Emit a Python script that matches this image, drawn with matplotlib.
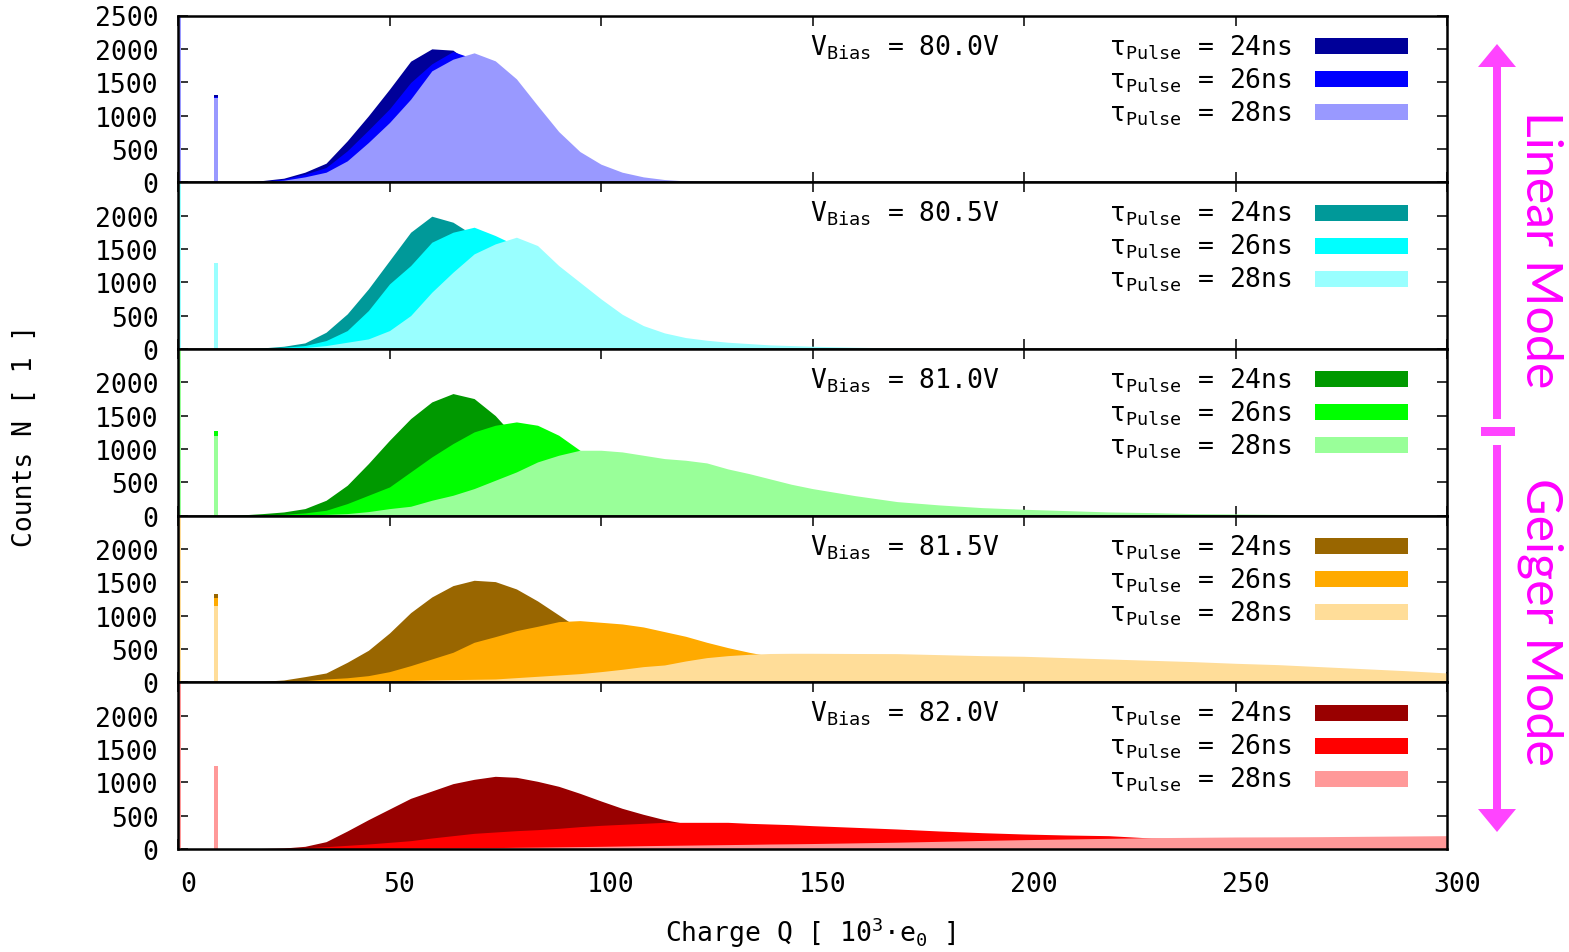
import matplotlib.pyplot as plt
import matplotlib.transforms as mtransforms
from matplotlib.patches import Rectangle, Polygon

plt.rcParams['font.family'] = ['DejaVu Sans Mono', 'DejaVu Sans']
plt.rcParams['mathtext.fontset'] = 'custom'
plt.rcParams['mathtext.rm'] = 'DejaVu Sans Mono'
plt.rcParams['mathtext.it'] = 'DejaVu Sans Mono'
plt.rcParams['mathtext.bf'] = 'DejaVu Sans Mono:bold'

# ==============================
# DATA  (charge in 10^3 e0, counts per bin)
# ==============================

charge = [10, 15, 20, 25, 30, 35, 40, 45, 50, 55, 60, 65, 70, 75, 80, 85, 90, 95,
          100, 105, 110, 115, 120, 125, 130, 135, 140, 145, 150,
          160, 170, 180, 190, 200, 210, 220, 230, 240, 250, 260, 270, 280, 290, 300]

bias_voltage = ['80.0', '80.5', '81.0', '81.5', '82.0']
pulse_width = ['24ns', '26ns', '28ns']
charge_ticks = [0, 50, 100, 150, 200, 250, 300]

# 80.0 V
v800_t24 = [0, 5, 25, 60, 150, 285, 620, 995, 1395, 1815, 2000, 1980, 1750, 1400, 1000, 650, 380, 200,
            100, 50, 20, 8, 3, 0, 0, 0, 0, 0, 0,
            0, 0, 0, 0, 0, 0, 0, 0, 0, 0, 0, 0, 0, 0, 0]
v800_t26 = [0, 3, 15, 45, 120, 220, 470, 780, 1100, 1495, 1775, 1960, 1850, 1550, 1150, 750, 450, 250,
            130, 60, 25, 10, 4, 0, 0, 0, 0, 0, 0,
            0, 0, 0, 0, 0, 0, 0, 0, 0, 0, 0, 0, 0, 0, 0]
v800_t28 = [0, 2, 10, 30, 80, 150, 320, 595, 895, 1245, 1670, 1845, 1940, 1820, 1550, 1150, 760, 460,
            270, 150, 80, 40, 20, 10, 5, 2, 1, 0, 0,
            0, 0, 0, 0, 0, 0, 0, 0, 0, 0, 0, 0, 0, 0, 0]

# 80.5 V
v805_t24 = [0, 3, 15, 40, 90, 250, 525, 900, 1325, 1750, 1990, 1900, 1700, 1350, 950, 600, 350, 180,
            90, 40, 15, 5, 0, 0, 0, 0, 0, 0, 0,
            0, 0, 0, 0, 0, 0, 0, 0, 0, 0, 0, 0, 0, 0, 0]
v805_t26 = [0, 2, 8, 25, 50, 125, 275, 575, 975, 1250, 1600, 1750, 1825, 1700, 1550, 1200, 850, 550,
            330, 180, 90, 40, 15, 5, 0, 0, 0, 0, 0,
            0, 0, 0, 0, 0, 0, 0, 0, 0, 0, 0, 0, 0, 0, 0]
v805_t28 = [0, 1, 5, 10, 20, 50, 100, 150, 275, 500, 850, 1150, 1425, 1575, 1675, 1550, 1250, 1000,
            750, 520, 350, 240, 170, 130, 100, 80, 60, 50, 40,
            25, 15, 8, 4, 2, 0, 0, 0, 0, 0, 0, 0, 0, 0, 0]

# 81.0 V
v810_t24 = [0, 10, 30, 55, 105, 230, 455, 780, 1130, 1455, 1705, 1830, 1755, 1500, 1150, 800, 500, 300,
            160, 80, 40, 20, 10, 5, 0, 0, 0, 0, 0,
            0, 0, 0, 0, 0, 0, 0, 0, 0, 0, 0, 0, 0, 0, 0]
v810_t26 = [0, 3, 10, 20, 40, 80, 180, 305, 430, 655, 880, 1080, 1255, 1355, 1405, 1355, 1205, 980,
            750, 550, 380, 250, 160, 100, 60, 35, 20, 10, 5,
            0, 0, 0, 0, 0, 0, 0, 0, 0, 0, 0, 0, 0, 0, 0]
v810_t28 = [0, 1, 3, 6, 10, 18, 30, 60, 105, 140, 230, 305, 405, 530, 655, 805, 905, 980,
            980, 955, 905, 855, 830, 790, 700, 630, 550, 470, 405,
            300, 210, 160, 120, 95, 75, 55, 45, 30, 25, 18, 12, 8, 5, 3]

# 81.5 V
v815_t24 = [0, 5, 15, 35, 85, 140, 300, 480, 740, 1045, 1280, 1450, 1530, 1510, 1400, 1220, 1010, 800,
            600, 450, 330, 240, 170, 120, 80, 55, 35, 25, 15,
            8, 4, 0, 0, 0, 0, 0, 0, 0, 0, 0, 0, 0, 0, 0]
v815_t26 = [0, 2, 5, 12, 25, 50, 68, 100, 160, 250, 350, 450, 600, 685, 775, 840, 910, 925,
            900, 875, 830, 760, 690, 600, 520, 450, 390, 330, 280,
            200, 140, 100, 70, 50, 35, 25, 18, 12, 8, 5, 3, 2, 1, 0]
v815_t28 = [0, 1, 2, 3, 5, 7, 10, 15, 20, 28, 35, 40, 45, 50, 70, 90, 110, 130,
            160, 195, 235, 260, 320, 370, 400, 420, 432, 435, 435,
            432, 430, 415, 400, 390, 370, 350, 330, 310, 285, 265, 235, 205, 175, 140]

# 82.0 V
v820_t24 = [0, 2, 8, 15, 40, 110, 270, 440, 600, 760, 870, 980, 1045, 1090, 1075, 1015, 940, 835,
            720, 610, 520, 440, 380, 330, 290, 250, 220, 190, 165,
            125, 95, 70, 50, 35, 25, 15, 10, 6, 4, 0, 0, 0, 0, 0]
v820_t26 = [0, 1, 3, 10, 20, 35, 55, 75, 100, 125, 165, 200, 235, 255, 275, 290, 310, 335,
            355, 370, 385, 400, 400, 400, 400, 385, 375, 365, 350,
            325, 300, 270, 245, 225, 210, 200, 165, 155, 145, 135, 125, 115, 110, 100]
v820_t28 = [0, 0, 1, 1, 2, 3, 4, 6, 8, 10, 12, 15, 18, 21, 25, 28, 32, 36,
            40, 45, 50, 54, 58, 62, 66, 70, 75, 78, 82,
            92, 102, 115, 128, 140, 150, 160, 170, 175, 180, 182, 185, 190, 195, 200]

# pedestal peak near 9 and the overflow bin at 0 (clipped at the top)
peak_charge = 8.9
pedestal_800 = [1305, 1280, 1260]
pedestal_805 = [1240, 1260, 1290]
pedestal_810 = [1230, 1270, 1190]
pedestal_815 = [1320, 1260, 1145]
pedestal_820 = [1200, 1220, 1240]
zero_bin = [3000, 3000, 3000]

panels = [
    [v800_t24, v800_t26, v800_t28],
    [v805_t24, v805_t26, v805_t28],
    [v810_t24, v810_t26, v810_t28],
    [v815_t24, v815_t26, v815_t28],
    [v820_t24, v820_t26, v820_t28],
]
pedestals = [pedestal_800, pedestal_805, pedestal_810, pedestal_815, pedestal_820]

colors = [
    ['#000099', '#0000ff', '#9999ff'],
    ['#009999', '#00ffff', '#99ffff'],
    ['#009900', '#00ff00', '#99ff99'],
    ['#996600', '#ffaa00', '#ffdd99'],
    ['#990000', '#ff0000', '#ff9999'],
]

# ==============================
# FIGURE / LAYOUT (pixels)
# ==============================

W, H = 1569, 953
fig = plt.figure(figsize=(W / 100, H / 100), dpi=100)

left, right, top, bottom = 178, 1447, 16.5, 850
ph = (bottom - top) / 5
fs = 19

for i in range(5):
    ax = fig.add_axes([left / W, 1 - (top + (i + 1) * ph) / H,
                       (right - left) / W, ph / H])

    for j in range(3):
        c = colors[i][j]
        ax.bar([0.3, peak_charge], [zero_bin[j], pedestals[i][j]],
               width=[0.6, 1.0], color=c, linewidth=0)
        ax.fill_between(charge, panels[i][j], color=c, linewidth=0)

    ax.set_xlim(0, 300)
    ax.set_ylim(0, 2500)
    ax.set_xticks(charge_ticks)
    if i == 0:
        ax.set_yticks(range(0, 2501, 500))
    else:
        ax.set_yticks(range(0, 2001, 500))
    ax.set_axisbelow(True)
    ax.tick_params(direction='in', top=True, right=True, length=7, width=1.1,
                   labelsize=fs, pad=14, labelbottom=False)
    for s in ax.spines.values():
        s.set_linewidth(1.8)

    # x labels sit a little right of their ticks
    if i == 4:
        lab_tr = mtransforms.offset_copy(ax.get_xaxis_transform(), fig=fig,
                                         x=10, y=-35, units='dots')
        for v in charge_ticks:
            ax.text(v, 0, str(v), transform=lab_tr, ha='center', va='center',
                    fontsize=fs)

    trans = ax.get_xaxis_transform()

    # voltage label
    ax.text(194.3, 0.769, 'V$_{\\mathrm{Bias}}$ = ' + bias_voltage[i] + 'V',
            transform=trans, ha='right', va='baseline', fontsize=fs)

    # legend entries
    for j in range(3):
        yb = 0.769 - 0.198 * j
        ax.text(263.4, yb, 'τ$_{\\mathrm{Pulse}}$ = ' + pulse_width[j],
                transform=trans, ha='right', va='baseline', fontsize=fs)
        yc = 0.817 - 0.198 * j
        ax.add_patch(Rectangle((268.8, yc - 0.048), 22.0, 0.096,
                               transform=trans, color=colors[i][j],
                               linewidth=0, clip_on=False))

# axis titles
fig.text(810 / W, 1 - 933 / H, 'Charge Q [ 10$^{3}$·e$_{0}$ ]',
         ha='center', va='center', fontsize=fs)
fig.text(25 / W, 1 - 436 / H, 'Counts N [ 1 ]', rotation=90,
         ha='center', va='center', fontsize=fs)

# ==============================
# MODE ARROWS ON THE RIGHT
# ==============================

ov = fig.add_axes([0, 0, 1, 1], zorder=5)
ov.set_xlim(0, W)
ov.set_ylim(H, 0)
ov.axis('off')

pink = '#ff44ff'
ov.add_patch(Rectangle((1493, 66), 8, 354, color=pink, linewidth=0))
ov.add_patch(Polygon([(1478, 68), (1516, 68), (1497, 45)], color=pink, linewidth=0))
ov.add_patch(Rectangle((1481, 428), 34, 9, color=pink, linewidth=0))
ov.add_patch(Rectangle((1493, 446), 8, 366, color=pink, linewidth=0))
ov.add_patch(Polygon([(1478, 810), (1516, 810), (1497, 833)], color=pink, linewidth=0))

ov.text(1540, 250, 'Linear Mode', rotation=-90, ha='center', va='center',
        color='#ff00ff', fontsize=36, family=['Lato', 'DejaVu Sans'])
ov.text(1540, 622, 'Geiger Mode', rotation=-90, ha='center', va='center',
        color='#ff00ff', fontsize=36, family=['Lato', 'DejaVu Sans'])

fig.savefig('out.png', dpi=100)
